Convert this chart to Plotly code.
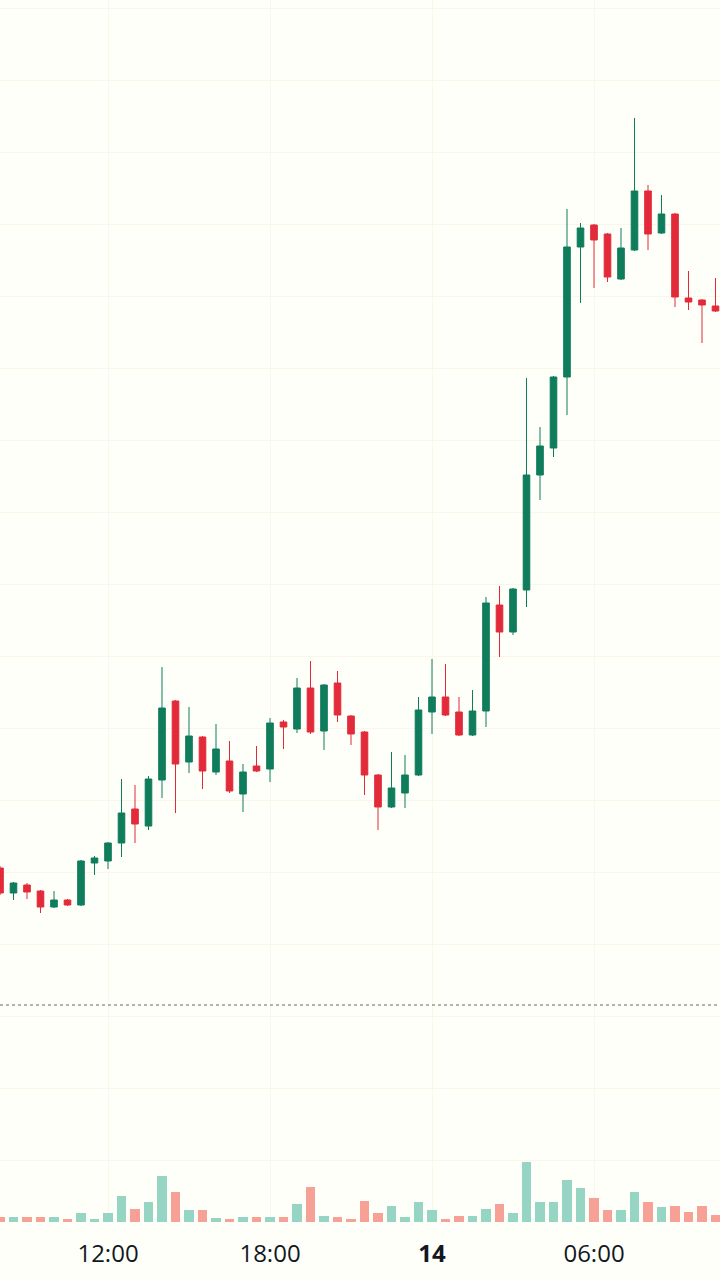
import pandas as pd
import plotly.graph_objects as go

# 30-minute candles, 2024-01-13 08:00 -> 2024-01-14 10:30
times = pd.date_range("2024-01-13 08:00", periods=54, freq="30min")

opens = [1132, 1107, 1115, 1109, 1093, 1100, 1095, 1137, 1139, 1157,
         1191, 1174, 1220, 1299, 1238, 1263, 1228, 1239, 1206, 1234,
         1231, 1278, 1271, 1312, 1269, 1317, 1284, 1268, 1225, 1193,
         1207, 1225, 1288, 1303, 1288, 1265, 1289, 1395, 1368, 1410,
         1525, 1552, 1623, 1753, 1775, 1766, 1721, 1750, 1809, 1767,
         1786, 1702, 1700, 1694]
highs = [1134, 1118, 1117, 1110, 1109, 1101, 1140, 1144, 1158, 1221,
         1215, 1224, 1333, 1300, 1293, 1264, 1276, 1259, 1236, 1254,
         1282, 1280, 1322, 1339, 1316, 1329, 1285, 1269, 1226, 1248,
         1245, 1303, 1341, 1336, 1303, 1310, 1403, 1414, 1412, 1622,
         1573, 1624, 1791, 1777, 1776, 1767, 1772, 1882, 1815, 1805,
         1787, 1729, 1701, 1722]
lows = [1105, 1100, 1101, 1087, 1092, 1094, 1094, 1125, 1131, 1143,
        1157, 1170, 1202, 1187, 1227, 1211, 1225, 1207, 1188, 1228,
        1218, 1251, 1267, 1266, 1250, 1278, 1255, 1205, 1170, 1192,
        1192, 1224, 1266, 1284, 1264, 1264, 1273, 1343, 1365, 1393,
        1500, 1543, 1585, 1697, 1712, 1718, 1720, 1749, 1750, 1766,
        1693, 1690, 1657, 1688]
closes = [1107, 1117, 1108, 1093, 1100, 1095, 1139, 1142, 1157, 1187,
          1176, 1221, 1292, 1236, 1264, 1229, 1251, 1209, 1228, 1229,
          1277, 1273, 1312, 1268, 1315, 1285, 1266, 1225, 1193, 1212,
          1225, 1290, 1303, 1285, 1265, 1289, 1397, 1368, 1411, 1525,
          1554, 1623, 1753, 1772, 1760, 1723, 1752, 1809, 1766, 1786,
          1703, 1698, 1695, 1689]
volumes = [5, 5, 5, 5, 5, 3, 9, 3, 9, 26,
           13, 20, 46, 30, 12, 12, 4, 3, 5, 5,
           5, 5, 18, 35, 6, 5, 3, 21, 9, 16,
           5, 20, 12, 3, 6, 6, 13, 18, 9, 60,
           20, 20, 42, 34, 24, 12, 12, 30, 20, 15,
           16, 10, 16, 7]

tick_vals = ["2024-01-13 12:00", "2024-01-13 18:00", "2024-01-14 00:00", "2024-01-14 06:00"]
tick_text = ["12:00", "18:00", "<b>14</b>", "06:00"]
ref_price = 995

UP = "#0f7d5c"
DOWN = "#e22a3a"
UP_VOL = "#96d4c4"
DOWN_VOL = "#f6a096"
BG = "#fffffa"

vol_colors = [UP_VOL if c >= o else DOWN_VOL for o, c in zip(opens, closes)]

fig = go.Figure()
fig.add_trace(go.Bar(
    x=times, y=volumes, yaxis="y2", marker_color=vol_colors,
    marker_line_width=0, width=1.33e6, showlegend=False,
))
fig.add_trace(go.Candlestick(
    x=times, open=opens, high=highs, low=lows, close=closes,
    increasing=dict(line=dict(color=UP, width=1), fillcolor=UP),
    decreasing=dict(line=dict(color=DOWN, width=1), fillcolor=DOWN),
    whiskerwidth=0, showlegend=False,
))

fig.add_shape(type="line", xref="paper", x0=0, x1=1, yref="y", y0=ref_price, y1=ref_price,
              line=dict(color="#666666", width=1, dash="dot"))

fig.update_layout(
    width=720, height=1280,
    margin=dict(l=0, r=0, t=0, b=58),
    paper_bgcolor=BG, plot_bgcolor=BG,
    font=dict(family="Open Sans", size=24, color="#131722"),
    xaxis=dict(
        type="date",
        range=["2024-01-13 08:00", "2024-01-14 10:40"],
        tickvals=tick_vals, ticktext=tick_text,
        showgrid=True, gridcolor="#faf7e8", gridwidth=1,
        zeroline=False, showline=False, ticks="",
        ticklabelstandoff=15,
        rangeslider=dict(visible=False),
        tickfont=dict(size=24, color="#131722"),
    ),
    yaxis=dict(
        range=[778, 2000], tick0=1992, dtick=72,
        showgrid=True, gridcolor="#faf7e8", gridwidth=1,
        showticklabels=False, zeroline=False, showline=False, ticks="",
    ),
    yaxis2=dict(
        overlaying="y", range=[0, 1222], showgrid=False,
        showticklabels=False, zeroline=False, showline=False,
    ),
    bargap=0,
    hovermode=False,
)

fig.write_html(
    "out.html",
    config={"displayModeBar": False, "staticPlot": True},
    post_script="document.body.style.margin='0';document.body.style.background='" + BG + "';",
)
